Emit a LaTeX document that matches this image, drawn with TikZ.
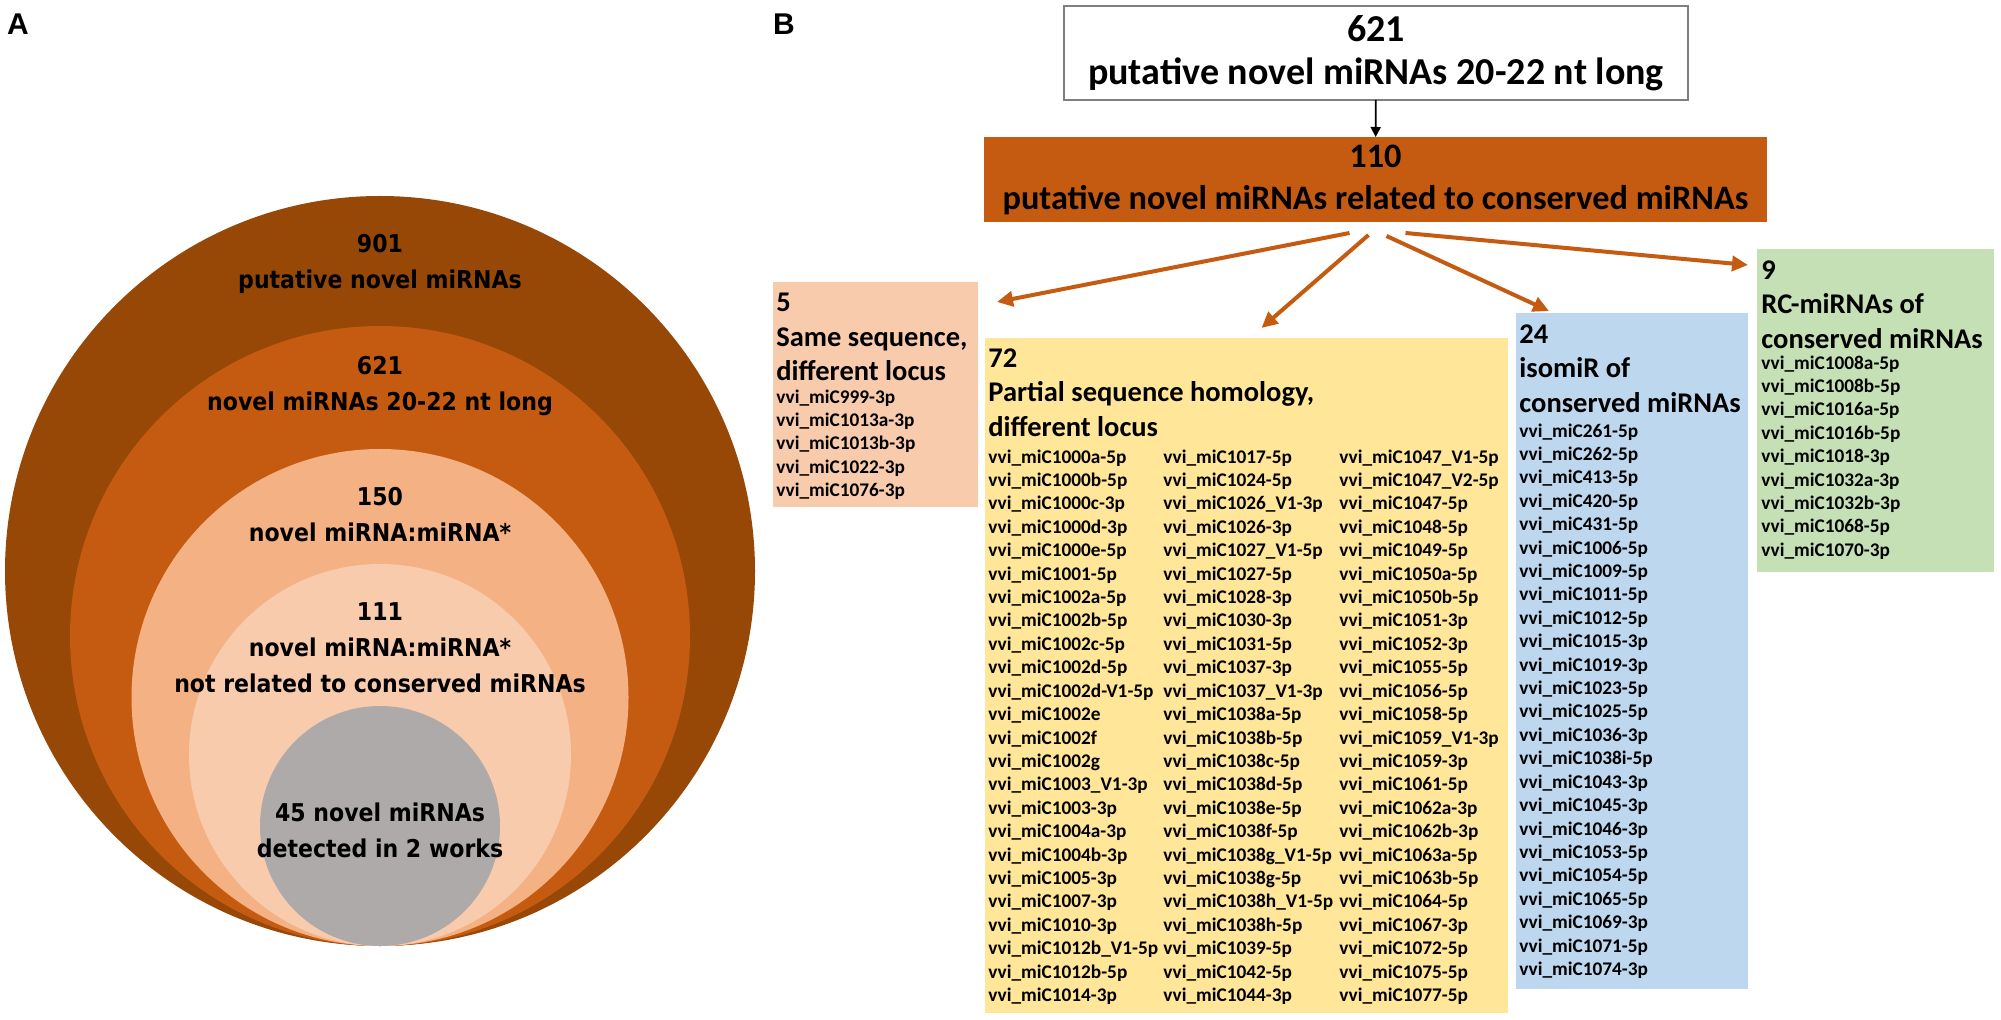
\documentclass[tikz,border=0pt]{standalone}
\usepackage{fontspec}
\setmainfont{Carlito}
\newfontfamily\circfont{DejaVu Sans}[FakeStretch=0.9]
\newfontfamily\panelfont{Liberation Sans}
\usetikzlibrary{positioning}
\usetikzlibrary{arrows.meta}
\definecolor{pBrown}{HTML}{974806}
\definecolor{pOrange}{HTML}{C55A11}
\definecolor{pPeach}{HTML}{F4B183}
\definecolor{pSalmon}{HTML}{F8CBAD}
\definecolor{pGray}{HTML}{AEAAAA}
\definecolor{pYellow}{HTML}{FFE699}
\definecolor{pBlue}{HTML}{BDD7EE}
\definecolor{pGreen}{HTML}{C5E0B4}
\definecolor{pLine}{HTML}{7F7F7F}

\tikzset{
  panel/.style={inner sep=0pt, font=\panelfont\bfseries\fontsize{15pt}{17pt}\selectfont},
  ctext/.style={align=center, inner sep=0pt, font=\circfont\bfseries\fontsize{12.25pt}{18pt}\selectfont},
  bigbox/.style={align=center, inner sep=0pt, outer sep=0pt, font=\bfseries},
  listbox/.style={anchor=north west, inner sep=0pt, outer sep=0pt, draw=none},
  head/.style={anchor=north west, align=left, inner sep=0pt, font=\bfseries\fontsize{14.25pt}{17.25pt}\selectfont},
  item/.style={anchor=west, inner sep=0pt, text height=6.2pt, text depth=0pt, font=\bfseries\fontsize{9.65pt}{11.7pt}\selectfont},
  orarrow/.style={draw=pOrange, line width=2pt, -{Triangle[length=8pt, width=7.5pt]}},
  blkarrow/.style={draw=black, line width=0.9pt, -{Triangle[length=5pt, width=5pt]}}
}

\begin{document}
\begin{tikzpicture}[x=0.5pt, y=-0.5pt]
  \useasboundingbox (0,0) rectangle (2001,1020);

  \node[panel] (labA) at (18,24) {A};
  \node[panel] (labB) at (784,24) {B};

  % A: nested circles touching at the bottom
  \fill[pBrown]  (380,571) circle[radius=375];
  \fill[pOrange] (380,636) circle[radius=310];
  \fill[pPeach]  (380,697.5) circle[radius=248.5];
  \fill[pSalmon] (380,755) circle[radius=191];
  \fill[pGray]   (380,826) circle[radius=120];

  \node[ctext] (n901) at (380,264) {901\\putative novel miRNAs};
  \node[ctext] (n621) at (380,386) {621\\novel miRNAs 20-22 nt long};
  \node[ctext] (n150) at (380,515) {150\\novel miRNA:miRNA*};
  \node[ctext] (n111) at (380,648) {111\\novel miRNA:miRNA*\\not related to conserved miRNAs};
  \node[ctext] (n45)  at (380,830) {45 novel miRNAs\\detected in 2 works};

  % B: flow of the 621 candidates
  \node[bigbox, draw=pLine, line width=0.75pt, minimum width=312pt, minimum height=47pt,
        font=\bfseries\fontsize{19pt}{21.5pt}\selectfont] (all621) at (1376,53)
        {621\\putative novel miRNAs 20-22 nt long};
  \node[bigbox, fill=pOrange, minimum width=391.5pt, minimum height=42.5pt,
        font=\bfseries\fontsize{17.15pt}{21pt}\selectfont] (rel110) at (1375.5,179.5)
        {110\\putative novel miRNAs related to conserved miRNAs};
  \draw[blkarrow] (all621) -- (rel110);

  \node[listbox, fill=pSalmon, minimum width=102.5pt, minimum height=112.5pt] (same) at (773,282) {};
  \node[listbox, fill=pYellow, minimum width=261.5pt, minimum height=337.5pt] (part) at (985,338) {};
  \node[listbox, fill=pBlue, minimum width=116pt, minimum height=338pt] (iso) at (1516,313) {};
  \node[listbox, fill=pGreen, minimum width=118.5pt, minimum height=161.5pt] (rc) at (1757,249) {};

  \node[head] (hSame) at (776,293) {5\\Same sequence,\\different locus};
  \node[head] (hPart) at (988,348) {72\\Partial sequence homology,\\different locus};
  \node[head] (hIso) at (1519,324) {24\\isomiR of\\conserved miRNAs};
  \node[head] (hRc) at (1761,260) {9\\RC-miRNAs of\\conserved miRNAs};

  \foreach \mi [count=\i] in {999-3p,1013a-3p,1013b-3p,1022-3p,1076-3p}
    \node[item] (s-\i) at (776,{397+23.4*(\i-1)}) {vvi\_miC\mi};

  \foreach \mi [count=\i] in {1000a-5p,1000b-5p,1000c-3p,1000d-3p,1000e-5p,1001-5p,1002a-5p,1002b-5p,
      1002c-5p,1002d-5p,1002d-V1-5p,1002e,1002f,1002g,1003\_V1-3p,1003-3p,1004a-3p,1004b-3p,
      1005-3p,1007-3p,1010-3p,1012b\_V1-5p,1012b-5p,1014-3p}
    \node[item] (pa-\i) at (988,{457+23.4*(\i-1)}) {vvi\_miC\mi};
  \foreach \mi [count=\i] in {1017-5p,1024-5p,1026\_V1-3p,1026-3p,1027\_V1-5p,1027-5p,1028-3p,1030-3p,
      1031-5p,1037-3p,1037\_V1-3p,1038a-5p,1038b-5p,1038c-5p,1038d-5p,1038e-5p,1038f-5p,
      1038g\_V1-5p,1038g-5p,1038h\_V1-5p,1038h-5p,1039-5p,1042-5p,1044-3p}
    \node[item] (pb-\i) at (1163,{457+23.4*(\i-1)}) {vvi\_miC\mi};
  \foreach \mi [count=\i] in {1047\_V1-5p,1047\_V2-5p,1047-5p,1048-5p,1049-5p,1050a-5p,1050b-5p,1051-3p,
      1052-3p,1055-5p,1056-5p,1058-5p,1059\_V1-3p,1059-3p,1061-5p,1062a-3p,1062b-3p,1063a-5p,
      1063b-5p,1064-5p,1067-3p,1072-5p,1075-5p,1077-5p}
    \node[item] (pc-\i) at (1339,{457+23.4*(\i-1)}) {vvi\_miC\mi};

  \foreach \mi [count=\i] in {261-5p,262-5p,413-5p,420-5p,431-5p,1006-5p,1009-5p,1011-5p,1012-5p,
      1015-3p,1019-3p,1023-5p,1025-5p,1036-3p,1038i-5p,1043-3p,1045-3p,1046-3p,1053-5p,
      1054-5p,1065-5p,1069-3p,1071-5p,1074-3p}
    \node[item] (i-\i) at (1519,{431+23.4*(\i-1)}) {vvi\_miC\mi};

  \foreach \mi [count=\i] in {1008a-5p,1008b-5p,1016a-5p,1016b-5p,1018-3p,1032a-3p,1032b-3p,1068-5p,1070-3p}
    \node[item] (r-\i) at (1761,{363+23.4*(\i-1)}) {vvi\_miC\mi};

  % arrows out of the 110 box
  \draw[orarrow] ([shift={(-26,11)}]rel110.south) -- ([shift={(19,20)}]same.north east);
  \draw[orarrow] ([shift={(-7,13)}]rel110.south) -- ([shift={(15,-10)}]part.north);
  \draw[orarrow] ([shift={(11,14)}]rel110.south) -- ([shift={(33,-2)}]iso.north west);
  \draw[orarrow] ([shift={(30,11)}]rel110.south) -- ([shift={(-9,16)}]rc.north west);
\end{tikzpicture}
\end{document}
